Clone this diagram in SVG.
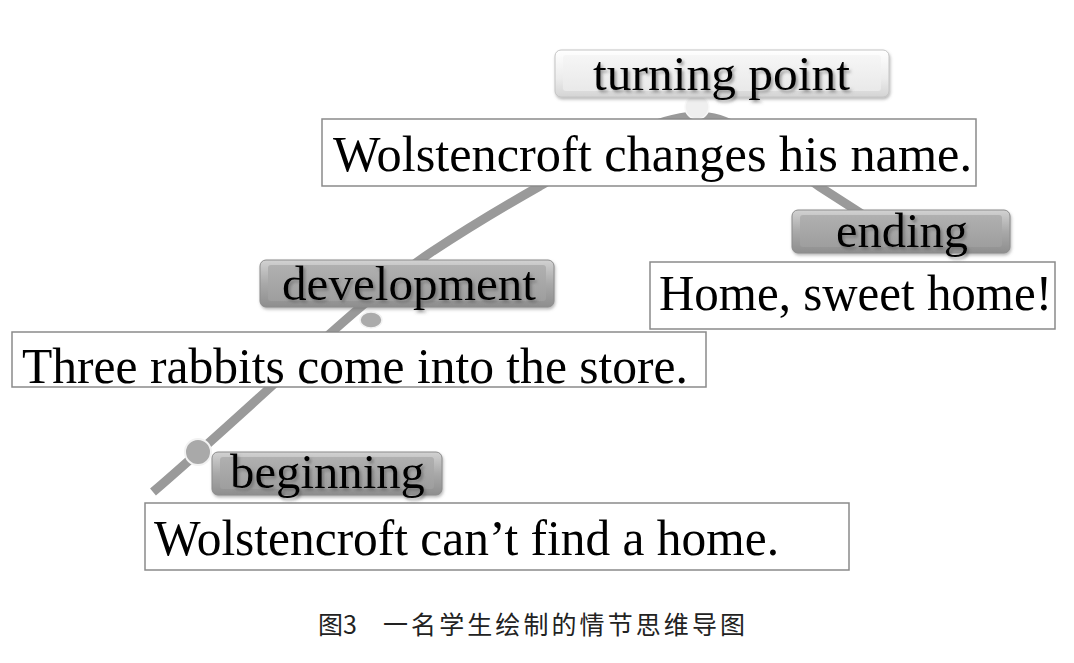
<svg xmlns="http://www.w3.org/2000/svg" width="1074" height="663" viewBox="0 0 1074 663">
<style>
.box{fill:#fff;stroke:#8a8a8a;stroke-width:1.5}
.txt{font-family:"Liberation Serif","Times New Roman",serif;font-size:50px;fill:#000}
.lbl{font-family:"Liberation Serif","Times New Roman",serif;font-size:49px;fill:#000;filter:url(#tsh)}
.dark{fill:url(#gDark);stroke:#8c8c8c;stroke-width:1}
.darkin{fill:url(#gDarkIn)}
.light{fill:url(#gLight);stroke:#c4c4c4;stroke-width:1}
.lightin{fill:url(#gLightIn)}
.cap{font-family:"Noto Sans CJK SC","Noto Serif CJK SC",sans-serif;font-size:25px;fill:#222}
</style>
<defs>
<linearGradient id="gDark" x1="0" y1="0" x2="0" y2="1">
<stop offset="0" stop-color="#d2d2d2"/><stop offset="0.5" stop-color="#a9a9a9"/><stop offset="1" stop-color="#8e8e8e"/>
</linearGradient>
<linearGradient id="gDarkIn" x1="0" y1="0" x2="0" y2="1">
<stop offset="0" stop-color="#b0b0b0"/><stop offset="1" stop-color="#9e9e9e"/>
</linearGradient>
<linearGradient id="gLight" x1="0" y1="0" x2="0" y2="1">
<stop offset="0" stop-color="#ffffff"/><stop offset="0.6" stop-color="#ececec"/><stop offset="1" stop-color="#d4d4d4"/>
</linearGradient>
<linearGradient id="gLightIn" x1="0" y1="0" x2="0" y2="1">
<stop offset="0" stop-color="#f6f6f6"/><stop offset="1" stop-color="#e9e9e9"/>
</linearGradient>
<filter id="tsh" x="-10%" y="-20%" width="120%" height="150%">
<feDropShadow dx="2" dy="2.5" stdDeviation="1.5" flood-color="#555" flood-opacity="0.55"/>
</filter>
<filter id="bsh" x="-10%" y="-20%" width="120%" height="150%">
<feDropShadow dx="1" dy="2" stdDeviation="1.5" flood-color="#666" flood-opacity="0.45"/>
</filter>
</defs>
<rect width="1074" height="663" fill="#fff"/>

<g id="connectors">
<path d="M153,492 C260,400 360,300 430,253 C480,220 510,203 540,186 C600,150 650,118 695,116 C740,114 780,160 820,187 L862,214" fill="none" stroke="#9a9a9a" stroke-width="9"/>
<circle cx="198" cy="452" r="13" fill="#a9a9a9" stroke="#f2f2f2" stroke-width="2"/>
<ellipse cx="371" cy="320" rx="11" ry="8" fill="#ababab" stroke="#f2f2f2" stroke-width="1.5"/>
<circle cx="697" cy="107" r="12" fill="#efefef" stroke="#f8f8f8" stroke-width="1.5"/>
</g>

<g id="turning-text">
<rect class="box" x="322" y="119" width="654" height="67"/>
<text class="txt" x="333" y="171" textLength="639" lengthAdjust="spacingAndGlyphs">Wolstencroft changes his name.</text>
</g>
<g id="ending-text">
<rect class="box" x="650" y="262" width="405" height="67"/>
<text class="txt" x="659" y="310" textLength="393" lengthAdjust="spacingAndGlyphs">Home, sweet home!</text>
</g>
<g id="development-text">
<rect class="box" x="12" y="332" width="694" height="55"/>
<text class="txt" x="22" y="383" textLength="666" lengthAdjust="spacingAndGlyphs">Three rabbits come into the store.</text>
</g>
<g id="beginning-text">
<rect class="box" x="145" y="503" width="704" height="67"/>
<text class="txt" x="154" y="555" textLength="625" lengthAdjust="spacingAndGlyphs">Wolstencroft can’t find a home.</text>
</g>

<g id="turning-label">
<rect class="light" x="555" y="50" width="334" height="47" rx="6" filter="url(#bsh)"/>
<rect class="lightin" x="563" y="55" width="318" height="36" rx="3"/>
<text class="lbl" x="593" y="90" textLength="257" lengthAdjust="spacingAndGlyphs">turning point</text>
</g>
<g id="development-label">
<rect class="dark" x="260" y="260" width="294" height="47" rx="6" filter="url(#bsh)"/>
<rect class="darkin" x="268" y="265" width="278" height="36" rx="3"/>
<text class="lbl" x="282" y="300" textLength="254" lengthAdjust="spacingAndGlyphs">development</text>
</g>
<g id="ending-label">
<rect class="dark" x="792" y="210" width="218" height="43" rx="6" filter="url(#bsh)"/>
<rect class="darkin" x="800" y="215" width="202" height="32" rx="3"/>
<text class="lbl" x="836" y="247" textLength="132" lengthAdjust="spacingAndGlyphs">ending</text>
</g>
<g id="beginning-label">
<rect class="dark" x="212" y="452" width="230" height="43" rx="6" filter="url(#bsh)"/>
<rect class="darkin" x="220" y="457" width="214" height="32" rx="3"/>
<text class="lbl" x="230" y="488" textLength="195" lengthAdjust="spacingAndGlyphs">beginning</text>
</g>

<g id="caption">
<text class="cap" x="318" y="634">图3</text>
<text class="cap" x="383" y="634" textLength="362" lengthAdjust="spacing">一名学生绘制的情节思维导图</text>
</g>
</svg>
